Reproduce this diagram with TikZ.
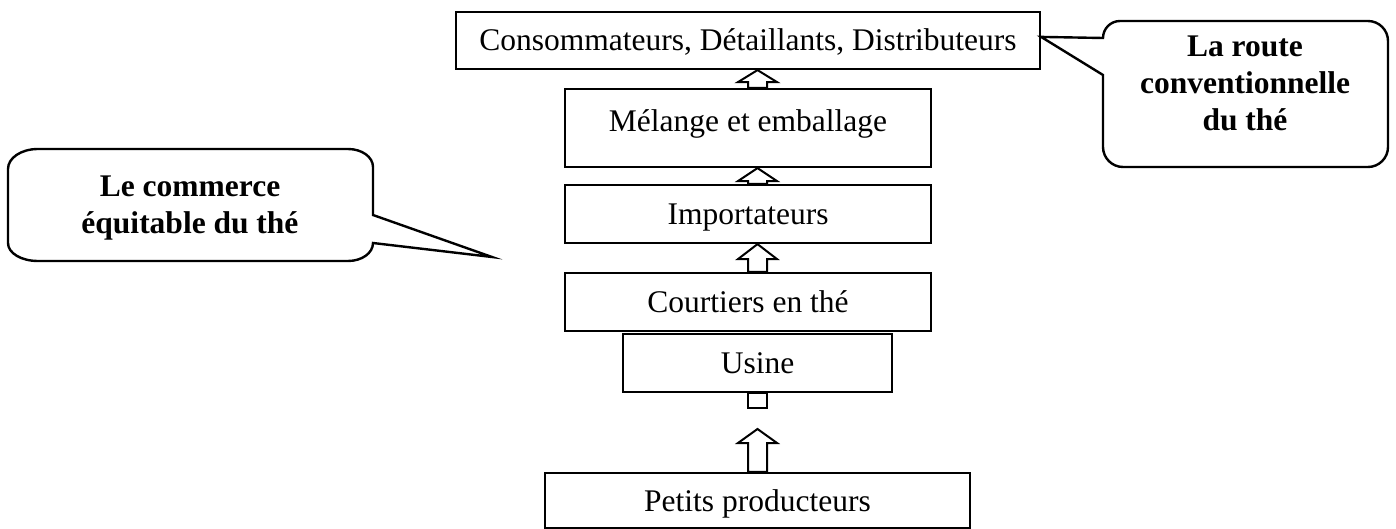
\documentclass[tikz,border=0pt]{standalone}
\usepackage{fontspec}
\setmainfont{Liberation Serif}
\usetikzlibrary{calc,positioning}
\tikzstyle{boite} = [draw,line width=1.1pt,inner sep=0pt,text height=10.5pt,text depth=0pt,font=\fontsize{15.75}{18.5}\selectfont]
\tikzstyle{bulle} = [draw,line width=1.2pt,fill=white]
\tikzstyle{bloc} = [draw,line width=1pt,fill=white]
\tikzstyle{gras} = [align=center,font=\fontsize{15.75}{18.5}\selectfont\bfseries]

% fleche creuse vers le haut, de #1 (bas) a #2 (pointe), tete de #3
\newcommand{\flechebloc}[3]{%
  \draw[bloc] ($(axe |- #1)+(-9.5,0)$) -- ($(axe |- #2)+(-9.5,#3)$)
    -- ++(-10,0) -- (axe |- #2) -- ($(axe |- #2)+(19.5,#3)$)
    -- ++(-10,0) -- ($(axe |- #1)+(9.5,0)$) -- cycle;}

\begin{document}
\begin{tikzpicture}[x=0.5pt,y=-0.5pt,on grid]
  \useasboundingbox (0,0) rectangle (1396,529);
  \coordinate (axe) at (757.5,0);
  % colonne
  \node[boite,minimum width=183pt,minimum height=29pt](courtiers) at (748,302){Courtiers en thé};
  \node[boite,minimum width=183pt,minimum height=29pt](importateurs)[above=44pt of courtiers]{Importateurs};
  \node[boite,minimum width=183pt,minimum height=39pt,text depth=7pt](melange)[above=43pt of importateurs]{Mélange et emballage};
  \node[boite,minimum width=292pt,minimum height=28.5pt](conso)[above=43.75pt of melange]{Consommateurs, Détaillants, Distributeurs};
  \node[boite,minimum width=134.5pt,minimum height=29pt](usine)[below=30.5pt of courtiers,xshift=4.75pt]{Usine};
  \node[boite,minimum width=212.5pt,minimum height=27.5pt](petits)[below=68.75pt of usine]{Petits producteurs};
  \coordinate (pointe) at (757.5,429);
  % fleches
  \flechebloc{melange.north}{conso.south}{12}
  \flechebloc{importateurs.north}{melange.south}{13}
  \flechebloc{courtiers.north}{importateurs.south}{15}
  \draw[bloc] ($(axe |- usine.south)+(-9.5,0)$) rectangle ++(19,15);
  \flechebloc{petits.north}{pointe}{14}
  % bulles
  \draw[bulle] ($(conso.north east)+(0,26)$) -- (1103,38)
    .. controls (1103,28.6) and (1110.6,21) .. (1120,21) -- (1368,21)
    .. controls (1379,21) and (1388,30) .. (1388,41) -- (1388,147)
    .. controls (1388,158) and (1379,167) .. (1368,167) -- (1123,167)
    .. controls (1112,167) and (1103,158) .. (1103,147) -- (1103,75) -- cycle;
  \node[gras](route) at (1245,83){La route\\conventionnelle\\du thé};
  \coordinate (bec) at (492,257);
  \draw[bulle] (373,215) -- (bec) -- (373,243)
    .. controls (373,253) and (362,261) .. (348,261) -- (38,261)
    .. controls (21,261) and (8,253) .. (8,243) -- (8,169)
    .. controls (8,158) and (21,149) .. (38,149) -- (348,149)
    .. controls (362,149) and (373,157) .. (373,167) -- cycle;
  \node[gras](equitable) at (190,208){Le commerce\\équitable du thé};
\end{tikzpicture}
\end{document}
